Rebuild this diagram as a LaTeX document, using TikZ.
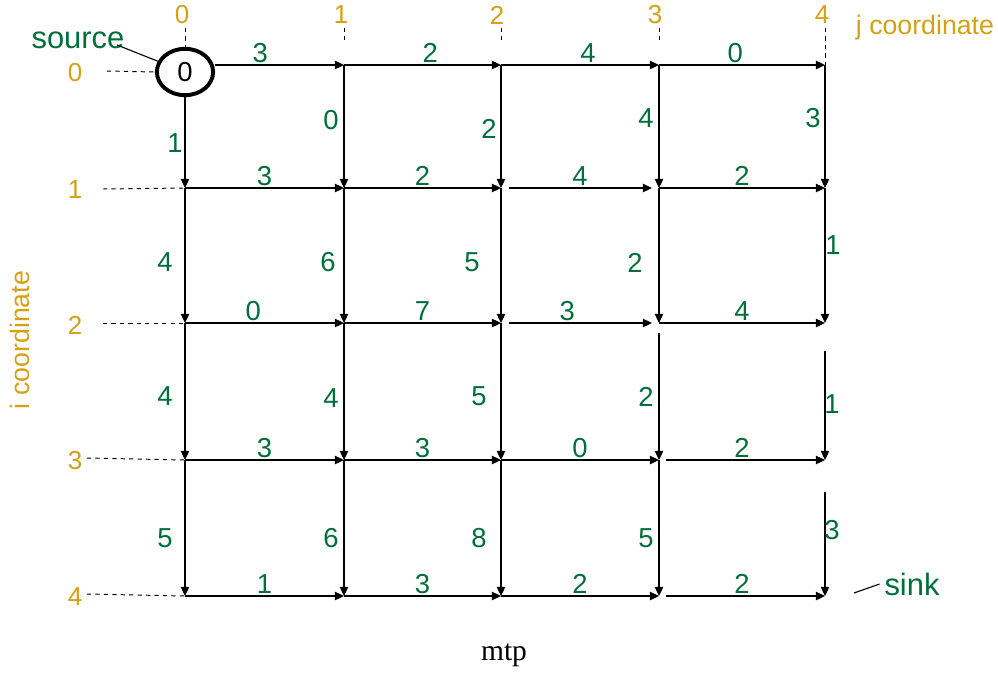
\documentclass[tikz,border=0pt]{standalone}
\usepackage{fontspec}
\setmainfont{Liberation Sans}
\newfontfamily\capfont{Liberation Serif}
\usetikzlibrary{arrows.meta,shapes.geometric}

\definecolor{wgreen}{RGB}{0,110,58}
\definecolor{cgold}{RGB}{212,160,20}

\begin{document}
\begin{tikzpicture}[
  x=0.025cm, y=-0.025cm,
  >={Triangle[length=6.5pt, width=6pt]},
  arr/.style={->, line width=0.9pt},
  wt/.style={text=wgreen, font=\fontsize{19.5}{22}\selectfont, inner sep=1pt},
  idx/.style={text=cgold, font=\fontsize{18.5}{21}\selectfont, inner sep=1pt},
  axis/.style={text=cgold, font=\fontsize{19}{22}\selectfont},
  tag/.style={text=wgreen, font=\fontsize{22}{26}\selectfont},
  guide/.style={dashed, line width=0.7pt},
]
\useasboundingbox (0,0) rectangle (998,672);

% grid points
\coordinate (v00) at (185,65);  \coordinate (v01) at (344,65);  \coordinate (v02) at (501,65);  \coordinate (v03) at (659,65);  \coordinate (v04) at (825,65);
\coordinate (v10) at (185,188); \coordinate (v11) at (344,188); \coordinate (v12) at (501,188); \coordinate (v13) at (659,188); \coordinate (v14) at (825,188);
\coordinate (v20) at (185,323); \coordinate (v21) at (344,323); \coordinate (v22) at (501,323); \coordinate (v23) at (659,323); \coordinate (v24) at (825,323);
\coordinate (v30) at (185,460); \coordinate (v31) at (344,460); \coordinate (v32) at (501,460); \coordinate (v33) at (659,460); \coordinate (v34) at (825,460);
\coordinate (v40) at (185,596); \coordinate (v41) at (344,596); \coordinate (v42) at (501,596); \coordinate (v43) at (659,596); \coordinate (v44) at (825,596);

% source and sink
\node[draw, ellipse, line width=2.8pt, minimum width=40pt, minimum height=33pt,
      inner sep=0pt, font=\fontsize{19.5}{22}\selectfont] (src) at (185,72) {0};
\node[tag] (srclbl) at (78,40) {source};
\draw[line width=0.8pt] (117,45) -- (src);
\node[tag] (snklbl) at (912,584) {sink};
\coordinate (snkend) at (854,593);
\draw[line width=0.8pt] (snkend) -- (snklbl.west);

% j coordinate
\node[axis] (jax) at (925,28) {j coordinate};
\node[idx] (j0) at (182,15) {0};
\node[idx] (j1) at (341,15) {1};
\node[idx] (j2) at (497,15) {2};
\node[idx] (j3) at (655,15) {3};
\node[idx] (j4) at (822,15) {4};
\coordinate (j0e) at (185,47); \coordinate (j1e) at (344,40);
\coordinate (j2e) at (501,40); \coordinate (j3e) at (659,40);
\draw[guide] (185,28) -- (j0e);
\draw[guide] (344,28) -- (j1e);
\draw[guide] (501,28) -- (j2e);
\draw[guide] (659,28) -- (j3e);
\draw[guide] (825,28) -- (v04);

% i coordinate
\node[axis, rotate=90] (iax) at (20,340) {i coordinate};
\node[idx] (i0) at (75,73) {0};
\node[idx] (i1) at (75,190) {1};
\node[idx] (i2) at (75,325) {2};
\node[idx] (i3) at (75,461) {3};
\node[idx] (i4) at (75,597) {4};
\draw[guide] (107,71) -- (src.west);
\draw[guide] (103,189) -- (v10);
\draw[guide] (103,323) -- (v20);
\draw[guide] (87,458) -- (v30);
\draw[guide] (87,594) -- (v40);

% row 0
\draw[arr] (src.east |- v01) -- node[above, wt, pos=0.35] {3} (v01);
\draw[arr] (v01) -- node[above, wt, pos=0.55] {2} (v02);
\draw[arr] (v02) -- node[above, wt, pos=0.55] {4} (v03);
\draw[arr] (v03) -- node[above, wt, pos=0.46] {0} (v04);
% row 1
\draw[arr] (v10) -- node[above, wt] {3} (v11);
\draw[arr] (v11) -- node[above, wt] {2} (v12);
\draw[arr, shorten <=6pt, shorten >=5pt] (v12) -- node[above, wt] {4} (v13);
\draw[arr] (v13) -- node[above, wt] {2} (v14);
% row 2
\draw[arr] (v20) -- node[above, wt, pos=0.43] {0} (v21);
\draw[arr] (v21) -- node[above, wt] {7} (v22);
\draw[arr, shorten <=6pt, shorten >=5pt] (v22) -- node[above, wt, pos=0.42] {3} (v23);
\draw[arr] (v23) -- node[above, wt] {4} (v24);
% row 3
\draw[arr] (v30) -- node[above, wt] {3} (v31);
\draw[arr] (v31) -- node[above, wt] {3} (v32);
\draw[arr] (v32) -- node[above, wt] {0} (v33);
\draw[arr, shorten <=5pt] (v33) -- node[above, wt] {2} (v34);
% row 4
\draw[arr] (v40) -- node[above, wt] {1} (v41);
\draw[arr] (v41) -- node[above, wt] {3} (v42);
\draw[arr] (v42) -- node[above, wt] {2} (v43);
\draw[arr, shorten <=5pt] (v43) -- node[above, wt] {2} (v44);

% columns, rows 0-1
\draw[arr] (src.south) -- node[wt, shift={(-10,0)}] {1} (v10);
\draw[arr] (v01) -- node[wt, shift={(-13,-6)}] {0} (v11);
\draw[arr] (v02) -- node[wt, shift={(-12,2)}] {2} (v12);
\draw[arr] (v03) -- node[wt, shift={(-13,-8)}] {4} (v13);
\draw[arr] (v04) -- node[wt, shift={(-12,-8)}] {3} (v14);
% rows 1-2
\draw[arr] (v10) -- node[wt, shift={(-20,7)}] {4} (v20);
\draw[arr] (v11) -- node[wt, shift={(-16,7)}] {6} (v21);
\draw[arr] (v12) -- node[wt, shift={(-29,7)}] {5} (v22);
\draw[arr] (v13) -- node[wt, shift={(-24,7)}] {2} (v23);
\draw[arr] (v14) -- node[wt, shift={(8,-10)}] {1} (v24);
% rows 2-3
\draw[arr] (v20) -- node[wt, shift={(-20,5)}] {4} (v30);
\draw[arr] (v21) -- node[wt, shift={(-13,7)}] {4} (v31);
\draw[arr] (v22) -- node[wt, shift={(-22,5)}] {5} (v32);
\draw[arr, shorten <=7pt] (v23) -- node[wt, shift={(-13,5)}] {2} (v33);
\draw[arr, shorten <=20pt] (v24) -- node[wt, shift={(7,13)}] {1} (v34);
% rows 3-4
\draw[arr] (v30) -- node[wt, shift={(-20,10)}] {5} (v40);
\draw[arr] (v31) -- node[wt, shift={(-13,10)}] {6} (v41);
\draw[arr] (v32) -- node[wt, shift={(-22,10)}] {8} (v42);
\draw[arr] (v33) -- node[wt, shift={(-13,10)}] {5} (v43);
\draw[arr, shorten <=23pt] (v34) -- node[wt, shift={(7,2)}] {3} (v44);

\node[font=\capfont\fontsize{21}{24}\selectfont] (cap) at (504,655) {mtp};
\end{tikzpicture}
\end{document}
